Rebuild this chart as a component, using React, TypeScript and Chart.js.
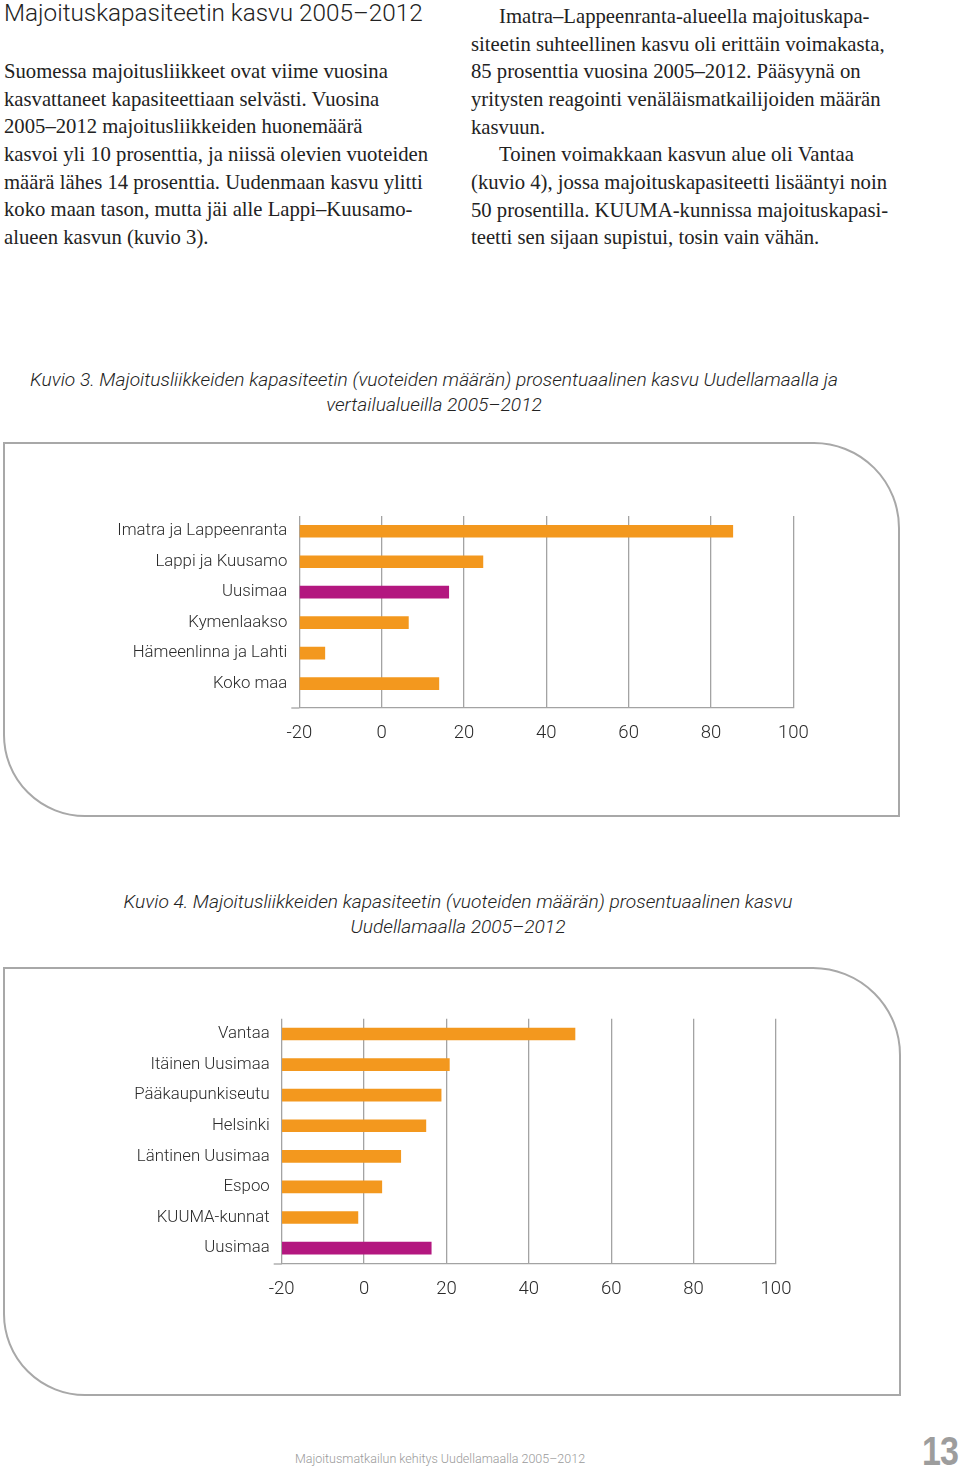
import React, { useEffect, useRef } from "react";
import { Chart, registerables } from "chart.js";

Chart.register(...registerables);

// ---------- data ----------
const chart1Labels = [
  "Imatra ja Lappeenranta",
  "Lappi ja Kuusamo",
  "Uusimaa",
  "Kymenlaakso",
  "Hämeenlinna ja Lahti",
  "Koko maa",
];
const chart1Values = [85.3, 24.6, 16.3, 6.5, -13.8, 13.9];
const chart1Highlight = [false, false, true, false, false, false];

const chart2Labels = [
  "Vantaa",
  "Itäinen Uusimaa",
  "Pääkaupunkiseutu",
  "Helsinki",
  "Läntinen Uusimaa",
  "Espoo",
  "KUUMA-kunnat",
  "Uusimaa",
];
const chart2Values = [51.2, 20.7, 18.7, 15.0, 8.9, 4.3, -1.5, 16.3];
const chart2Highlight = [false, false, false, false, false, false, false, true];

const axisTicks = [-20, 0, 20, 40, 60, 80, 100];

// ---------- styles ----------
const ORANGE = "#F3981E";
const MAGENTA = "#B3177F";
const GRID = "#a3a3a3";
const LABEL = "#2a2a2a";
const SANS = "Roboto, 'Open Sans', sans-serif";

const axisStub = {
  id: "axisStub",
  afterDraw(chart: any) {
    const { ctx, chartArea } = chart;
    ctx.save();
    ctx.strokeStyle = GRID;
    ctx.lineWidth = 1.3;
    ctx.beginPath();
    ctx.moveTo(chartArea.left - 8, chartArea.bottom);
    ctx.lineTo(chartArea.left, chartArea.bottom);
    ctx.stroke();
    ctx.restore();
  },
};

type BarProps = {
  labels: string[];
  values: number[];
  highlight: boolean[];
  yMax: number;
  left: number;
  top: number;
  width: number;
  height: number;
  padTop: number;
  padRight: number;
  yWidth: number;
  xHeight: number;
};

function BarChart(p: BarProps) {
  const ref = useRef<HTMLCanvasElement | null>(null);
  useEffect(() => {
    if (!ref.current) return;
    const chart = new Chart(ref.current, {
      type: "bar",
      data: {
        datasets: [
          {
            data: p.values.map((v, i) => ({ x: v, y: i })) as any,
            base: axisTicks[0],
            backgroundColor: p.highlight.map((h) => (h ? MAGENTA : ORANGE)),
            barThickness: 12,
            borderWidth: 0,
          } as any,
        ],
      },
      options: {
        indexAxis: "y",
        animation: false,
        responsive: false,
        maintainAspectRatio: false,
        devicePixelRatio: 1,
        layout: { padding: { top: p.padTop, right: p.padRight, left: 0, bottom: 0 } },
        plugins: { legend: { display: false }, tooltip: { enabled: false } },
        scales: {
          x: {
            type: "linear",
            position: "bottom",
            offset: false,
            min: axisTicks[0],
            max: axisTicks[axisTicks.length - 1],
            afterBuildTicks: (s: any) => {
              s.ticks = axisTicks.map((v) => ({ value: v }));
            },
            afterFit: (s: any) => {
              s.height = p.xHeight;
            },
            grid: { color: GRID, lineWidth: 1.3, drawTicks: false, offset: false },
            border: { display: true, color: GRID, width: 1.3 },
            ticks: {
              padding: 14,
              color: LABEL,
              font: { family: SANS, size: 18.5, weight: "300" as any },
              autoSkip: false,
              maxRotation: 0,
            },
          },
          y: {
            type: "linear",
            reverse: true,
            offset: false,
            min: -0.5,
            max: p.yMax,
            afterBuildTicks: (s: any) => {
              s.ticks = p.labels.map((_, i) => ({ value: i }));
            },
            afterFit: (s: any) => {
              s.width = p.yWidth;
            },
            grid: { display: false, drawTicks: false, offset: false },
            border: { display: false },
            ticks: {
              padding: 12,
              color: LABEL,
              autoSkip: false,
              font: { family: SANS, size: 16.8, weight: "300" as any },
              callback: (v: any) => p.labels[Math.round(Number(v))] ?? "",
            },
          },
        },
      },
      plugins: [axisStub],
    });
    return () => chart.destroy();
  }, []);
  return (
    <canvas
      ref={ref}
      width={p.width}
      height={p.height}
      style={{
        position: "absolute",
        left: p.left,
        top: p.top,
        width: p.width,
        height: p.height,
      }}
    />
  );
}

const leftLines = [
  "Suomessa majoitusliikkeet ovat viime vuosina",
  "kasvattaneet kapasiteettiaan selvästi. Vuosina",
  "2005–2012 majoitusliikkeiden huonemäärä",
  "kasvoi yli 10 prosenttia, ja niissä olevien vuoteiden",
  "määrä lähes 14 prosenttia. Uudenmaan kasvu ylitti",
  "koko maan tason, mutta jäi alle Lappi–Kuusamo-",
  "alueen kasvun (kuvio 3).",
];
const rightLines: [string, boolean][] = [
  ["Imatra–Lappeenranta-alueella majoituskapa-", true],
  ["siteetin suhteellinen kasvu oli erittäin voimakasta,", false],
  ["85 prosenttia vuosina 2005–2012. Pääsyynä on", false],
  ["yritysten reagointi venäläismatkailijoiden määrän", false],
  ["kasvuun.", false],
  ["Toinen voimakkaan kasvun alue oli Vantaa", true],
  ["(kuvio 4), jossa majoituskapasiteetti lisääntyi noin", false],
  ["50 prosentilla. KUUMA-kunnissa majoituskapasi-", false],
  ["teetti sen sijaan supistui, tosin vain vähän.", false],
];

const serif: React.CSSProperties = {
  position: "absolute",
  fontFamily: "'Liberation Serif', serif",
  fontSize: 20.7,
  lineHeight: "27.67px",
  color: "#222",
  whiteSpace: "nowrap",
};

const caption: React.CSSProperties = {
  position: "absolute",
  fontFamily: SANS,
  fontStyle: "italic",
  fontWeight: 300,
  fontSize: 19.2,
  lineHeight: "25px",
  color: "#222",
  textAlign: "center",
  whiteSpace: "nowrap",
};

const boxStyle: React.CSSProperties = {
  position: "absolute",
  border: "2px solid #a8a8a8",
  boxSizing: "border-box",
  background: "#fff",
};

export default function App() {
  return (
    <div
      style={{
        position: "absolute",
        left: 0,
        top: 0,
        width: 960,
        height: 1468,
        background: "#fff",
        overflow: "hidden",
      }}
    >
      <div
        style={{
          position: "absolute",
          left: 4,
          top: 0,
          fontFamily: SANS,
          fontWeight: 300,
          fontSize: 24.3,
          lineHeight: "26px",
          color: "#222",
          whiteSpace: "nowrap",
        }}
      >
        Majoituskapasiteetin kasvu 2005–2012
      </div>

      <div style={{ ...serif, left: 4, top: 58 }}>
        {leftLines.map((l, i) => (
          <div key={i}>{l}</div>
        ))}
      </div>
      <div style={{ ...serif, left: 471, top: 3 }}>
        {rightLines.map(([l, ind], i) => (
          <div key={i} style={{ paddingLeft: ind ? 28 : 0 }}>
            {l}
          </div>
        ))}
      </div>

      <div style={{ ...caption, left: 0, width: 868, top: 367 }}>
        <div>
          Kuvio 3. Majoitusliikkeiden kapasiteetin (vuoteiden määrän) prosentuaalinen kasvu Uudellamaalla ja
        </div>
        <div>vertailualueilla 2005–2012</div>
      </div>

      <div
        style={{
          ...boxStyle,
          left: 3,
          top: 442,
          width: 897,
          height: 375,
          borderRadius: "0 86px 0 82px",
        }}
      />
      <BarChart
        labels={chart1Labels}
        values={chart1Values}
        highlight={chart1Highlight}
        yMax={5.8}
        left={100}
        top={486}
        width={740}
        height={274}
        padTop={30}
        padRight={46.7}
        yWidth={199.3}
        xHeight={52}
      />

      <div style={{ ...caption, left: 0, width: 916, top: 889 }}>
        <div>Kuvio 4. Majoitusliikkeiden kapasiteetin (vuoteiden määrän) prosentuaalinen kasvu</div>
        <div>Uudellamaalla 2005–2012</div>
      </div>

      <div
        style={{
          ...boxStyle,
          left: 3,
          top: 967,
          width: 898,
          height: 429,
          borderRadius: "0 88px 0 82px",
        }}
      />
      <BarChart
        labels={chart2Labels}
        values={chart2Values}
        highlight={chart2Highlight}
        yMax={7.52}
        left={100}
        top={988}
        width={740}
        height={330}
        padTop={30.7}
        padRight={64}
        yWidth={181.7}
        xHeight={54}
      />

      <div
        style={{
          position: "absolute",
          left: 0,
          width: 880,
          top: 1451,
          textAlign: "center",
          fontFamily: SANS,
          fontWeight: 300,
          fontSize: 12.5,
          lineHeight: "16px",
          color: "#9a9a9a",
          whiteSpace: "nowrap",
        }}
      >
        Majoitusmatkailun kehitys Uudellamaalla 2005–2012
      </div>
      <div
        style={{
          position: "absolute",
          left: 922,
          top: 1429,
          fontFamily: "'Liberation Sans', Arial, sans-serif",
          fontWeight: 700,
          fontSize: 41,
          lineHeight: "44px",
          color: "#9d9d9d",
          whiteSpace: "nowrap",
          letterSpacing: -1,
          transform: "scaleX(0.83)",
          transformOrigin: "left top",
        }}
      >
        13
      </div>
    </div>
  );
}
